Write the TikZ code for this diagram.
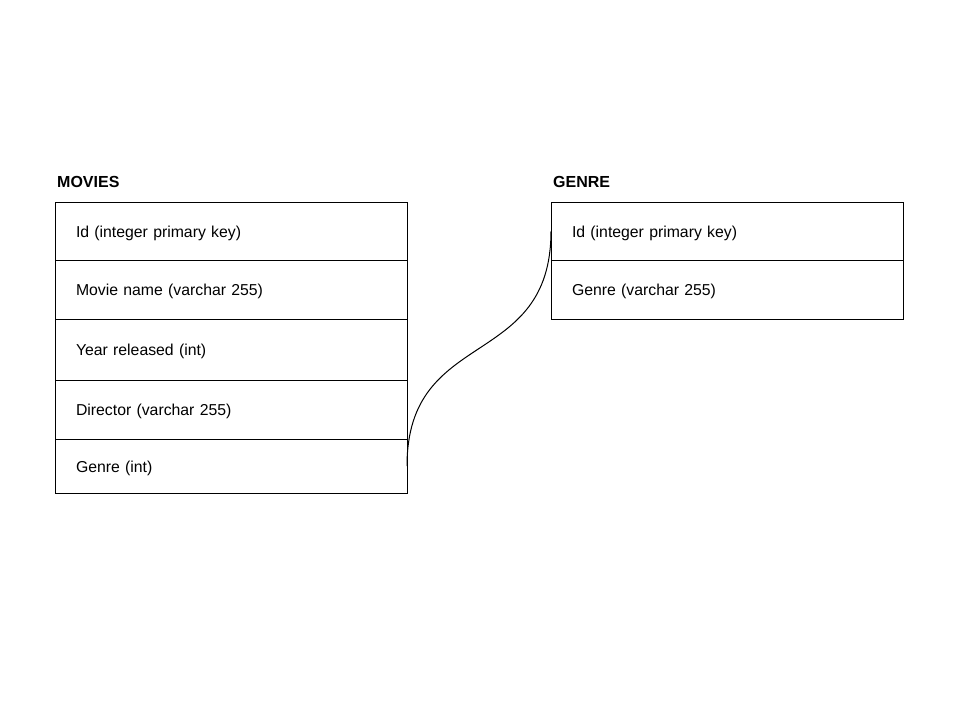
\documentclass[tikz,border=0pt]{standalone}
\usepackage{fontspec}
\setmainfont{Liberation Sans}
\usepackage{tikz}
\usetikzlibrary{positioning}
\tikzstyle{tabletitle} = [inner sep=0pt, anchor=west, font=\fontsize{16}{19}\selectfont\bfseries]
\tikzstyle{field} = [rectangle, draw=black, line width=1pt, outer sep=0pt, text width=310pt, text height=16pt, text depth=3.5pt, inner xsep=21pt, inner ysep=0pt, align=left, anchor=north]
\tikzstyle{link} = [line width=1pt]

\begin{document}
\begin{tikzpicture}[font=\fontsize{15.8}{19}\selectfont]
				\useasboundingbox (0pt,0pt) rectangle (960pt,-720pt);
				% movies table
				\node (movies) [tabletitle] at (57pt,-182pt) {MOVIES};
				\node (mid) [field, minimum height=58pt, anchor=north west] at (55pt,-202pt) {Id (integer primary key)};
				\node (mname) [field, minimum height=59pt, below=0pt of mid] {Movie name (varchar 255)};
				\node (myear) [field, minimum height=61pt, below=0pt of mname] {Year released (int)};
				\node (mdir) [field, minimum height=59pt, below=0pt of myear] {Director (varchar 255)};
				\node (mgenre) [field, minimum height=54pt, below=0pt of mdir] {Genre (int)};
				% genre table
				\node (genre) [tabletitle] at (553pt,-182pt) {GENRE};
				\node (gid) [field, minimum height=58pt, anchor=north west] at (551pt,-202pt) {Id (integer primary key)};
				\node (gname) [field, minimum height=59pt, below=0pt of gid] {Genre (varchar 255)};
				% relation
				\draw [link] (mgenre.east) .. controls +(0pt,140pt) and +(0pt,-140pt) .. (gid.west);
			\end{tikzpicture}
\end{document}
